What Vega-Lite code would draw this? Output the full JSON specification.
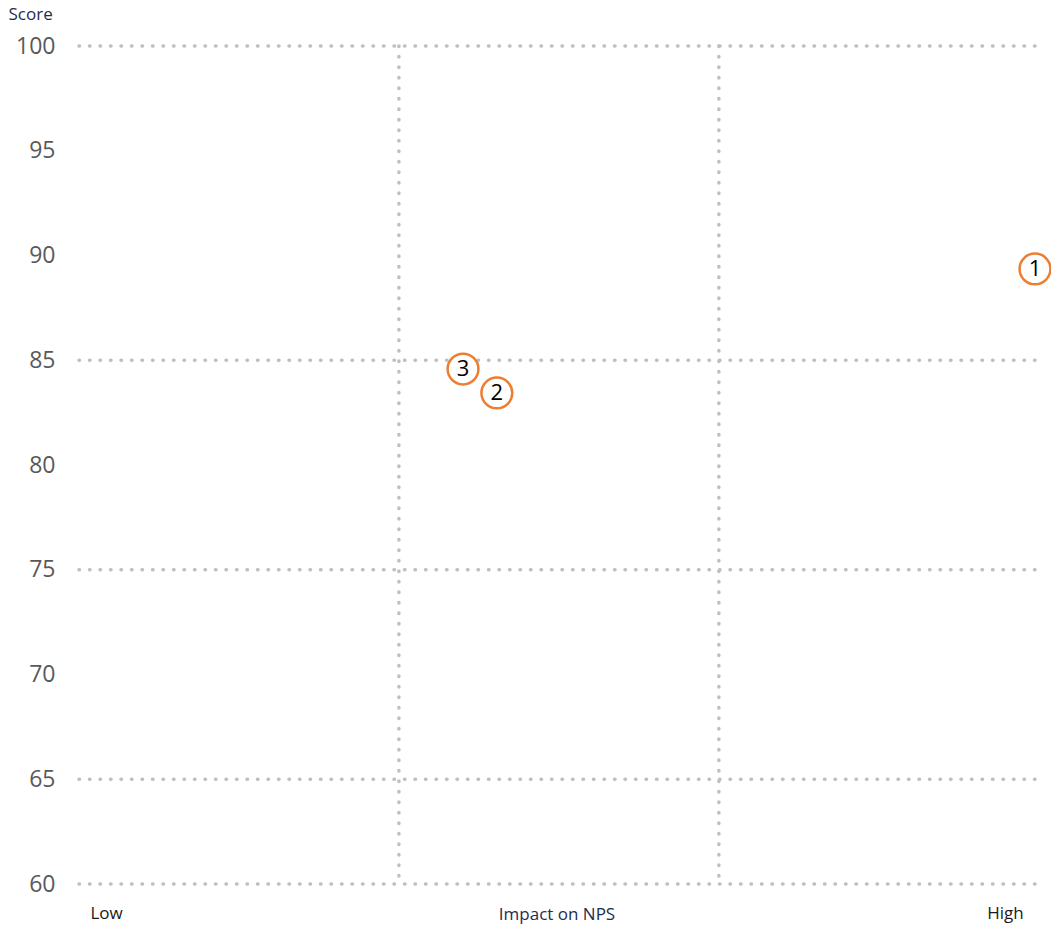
{
  "$schema": "https://vega.github.io/schema/vega-lite/v6.json",
  "width": 957,
  "height": 838,
  "autosize": {"type": "none"},
  "padding": {"left": 78, "top": 46, "right": 16, "bottom": 42},
  "background": "white",
  "config": {
    "view": {"stroke": null},
    "font": "Open Sans",
    "axisX": {
      "grid": false, "domain": false, "ticks": false, "tickSize": 0,
      "labelFontSize": 17, "labelColor": "#1A1A1A", "labelPadding": 21, "labelBaseline": "top", "labelAlign": "center",
      "titleFontSize": 17, "titleFontWeight": "normal", "titleColor": "#1F2D4E",
      "titleY": 30, "titleBaseline": "middle", "titleAnchor": "middle"
    },
    "axisY": {
      "grid": false, "domain": false, "ticks": false, "tickSize": 0,
      "labelFontSize": 23, "labelColor": "#595959", "labelPadding": 23,
      "titleAngle": 0, "titleFontSize": 17, "titleFontWeight": "normal", "titleColor": "#1F2D4E",
      "titleX": -70, "titleY": -32, "titleAlign": "left", "titleBaseline": "middle"
    }
  },
  "datasets": {
    "hlines": [{"score": 60}, {"score": 65}, {"score": 75}, {"score": 85}, {"score": 100}],
    "vlines": [{"impact": 1.006}, {"impact": 2.009}],
    "points": [
      {"id": "1", "impact": 3.0, "score": 89.36},
      {"id": "2", "impact": 1.313, "score": 83.44},
      {"id": "3", "impact": 1.207, "score": 84.58}
    ]
  },
  "layer": [
    {
      "data": {"name": "hlines"},
      "mark": {"type": "rule", "color": "#BFBFBF", "strokeWidth": 3.5, "strokeDash": [0.5, 10], "strokeCap": "round"},
      "encoding": {
        "y": {"field": "score", "type": "quantitative", "title": "Score",
              "scale": {"domain": [60, 100], "nice": false, "zero": false},
              "axis": {"values": [60, 65, 70, 75, 80, 85, 90, 95, 100]}}
      }
    },
    {
      "data": {"name": "vlines"},
      "mark": {"type": "rule", "color": "#BFBFBF", "strokeWidth": 3.5, "strokeDash": [0.5, 10], "strokeCap": "round"},
      "encoding": {
        "x": {"field": "impact", "type": "quantitative", "title": "Impact on NPS",
              "scale": {"domain": [0, 3], "nice": false, "zero": false},
              "axis": {"values": [0.088, 2.906], "labelExpr": "datum.value < 1 ? 'Low' : 'High'"}}
      }
    },
    {
      "data": {"name": "points"},
      "mark": {"type": "point", "shape": "circle", "filled": false, "fill": "white", "fillOpacity": 1, "stroke": "#ED7D31", "strokeWidth": 2.5, "size": 950, "opacity": 1},
      "encoding": {
        "x": {"field": "impact", "type": "quantitative", "title": "Impact on NPS",
              "scale": {"domain": [0, 3], "nice": false, "zero": false},
              "axis": {"values": [0.088, 2.906], "labelExpr": "datum.value < 1 ? 'Low' : 'High'"}},
        "y": {"field": "score", "type": "quantitative", "title": "Score",
              "scale": {"domain": [60, 100], "nice": false, "zero": false},
              "axis": {"values": [60, 65, 70, 75, 80, 85, 90, 95, 100]}}
      }
    },
    {
      "data": {"name": "points"},
      "mark": {"type": "text", "fontSize": 22, "color": "#000000", "align": "center", "baseline": "middle"},
      "encoding": {
        "x": {"field": "impact", "type": "quantitative", "title": "Impact on NPS",
              "scale": {"domain": [0, 3], "nice": false, "zero": false},
              "axis": {"values": [0.088, 2.906], "labelExpr": "datum.value < 1 ? 'Low' : 'High'"}},
        "y": {"field": "score", "type": "quantitative", "title": "Score",
              "scale": {"domain": [60, 100], "nice": false, "zero": false},
              "axis": {"values": [60, 65, 70, 75, 80, 85, 90, 95, 100]}},
        "text": {"field": "id"}
      }
    }
  ]
}
